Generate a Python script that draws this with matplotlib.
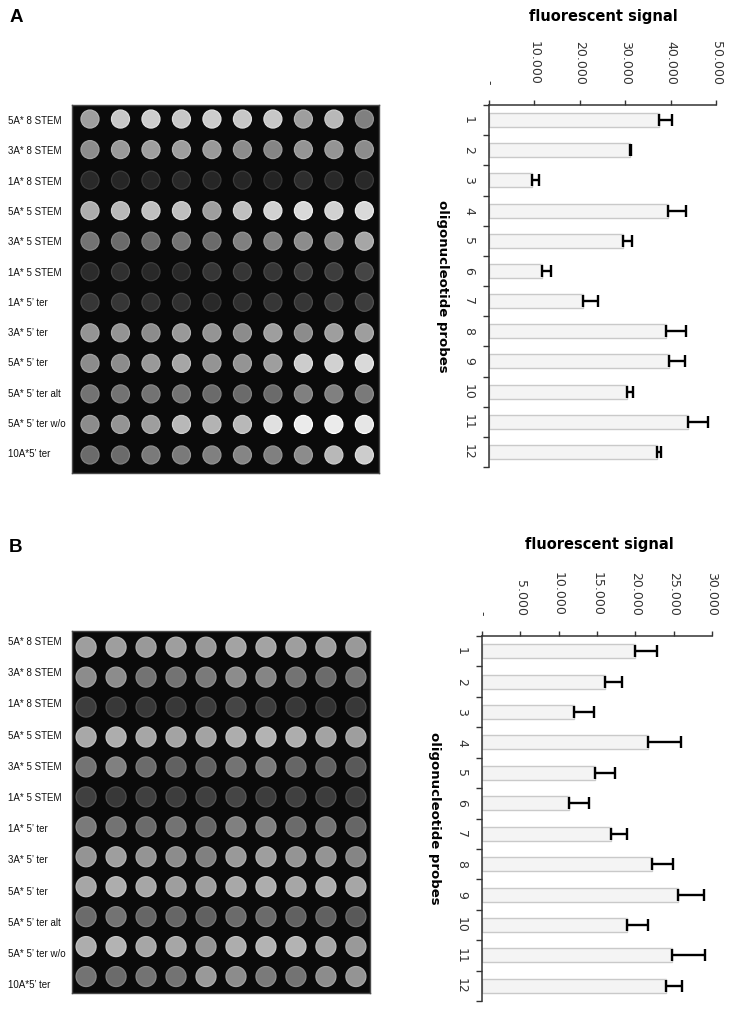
import matplotlib
matplotlib.use("Agg")
import matplotlib.pyplot as plt
import numpy as np

W, H = 734, 1009

# ---------------- data ----------------
probe_labels = ["5A* 8 STEM", "3A* 8 STEM", "1A* 8 STEM", "5A* 5 STEM", "3A* 5 STEM",
                "1A* 5 STEM", "1A* 5\u2019 ter", "3A* 5\u2019 ter", "5A* 5\u2019 ter",
                "5A* 5\u2019 ter alt", "5A* 5\u2019 ter w/o", "10A*5\u2019 ter"]
probe_numbers = [str(i) for i in range(1, 13)]

signal_A = [37400, 31100, 9400, 39500, 29600, 11700, 20600, 38900, 39700, 30500, 43800, 36900]
error_A = [3000, 200, 1700, 3800, 1800, 1900, 3400, 4500, 3500, 1300, 4400, 900]
ticks_A = [0, 10000, 20000, 30000, 40000, 50000]

signal_B = [20000, 16100, 12000, 21600, 14700, 11300, 16800, 22200, 25600, 18900, 24800, 24000]
error_B = [2800, 2200, 2600, 4400, 2700, 2600, 2100, 2700, 3400, 2700, 4300, 2100]
ticks_B = [0, 5000, 10000, 15000, 20000, 25000, 30000]

# spot brightness of the array images (0 = black, 1 = white), rows = probes, 10 replicates
spots_A = [
    [0.62, 0.78, 0.80, 0.78, 0.80, 0.78, 0.78, 0.62, 0.72, 0.50],
    [0.55, 0.60, 0.62, 0.62, 0.60, 0.55, 0.52, 0.58, 0.58, 0.55],
    [0.16, 0.15, 0.15, 0.16, 0.15, 0.15, 0.14, 0.18, 0.16, 0.16],
    [0.68, 0.72, 0.75, 0.75, 0.62, 0.75, 0.82, 0.85, 0.82, 0.85],
    [0.45, 0.42, 0.42, 0.45, 0.42, 0.50, 0.50, 0.55, 0.55, 0.65],
    [0.17, 0.19, 0.16, 0.16, 0.21, 0.21, 0.21, 0.24, 0.24, 0.27],
    [0.21, 0.21, 0.19, 0.19, 0.16, 0.19, 0.21, 0.21, 0.24, 0.24],
    [0.58, 0.58, 0.55, 0.60, 0.58, 0.55, 0.62, 0.55, 0.62, 0.62],
    [0.55, 0.55, 0.60, 0.65, 0.58, 0.58, 0.62, 0.80, 0.82, 0.85],
    [0.45, 0.45, 0.45, 0.45, 0.42, 0.42, 0.42, 0.50, 0.50, 0.48],
    [0.55, 0.58, 0.62, 0.72, 0.70, 0.72, 0.88, 0.92, 0.92, 0.90],
    [0.42, 0.42, 0.48, 0.48, 0.50, 0.52, 0.50, 0.55, 0.72, 0.80],
]
spots_B = [
    [0.62, 0.62, 0.60, 0.62, 0.60, 0.64, 0.64, 0.62, 0.62, 0.60],
    [0.55, 0.55, 0.45, 0.45, 0.48, 0.55, 0.52, 0.45, 0.42, 0.45],
    [0.24, 0.22, 0.22, 0.22, 0.24, 0.27, 0.24, 0.22, 0.20, 0.22],
    [0.66, 0.68, 0.65, 0.64, 0.64, 0.68, 0.70, 0.68, 0.64, 0.62],
    [0.45, 0.50, 0.42, 0.38, 0.38, 0.45, 0.48, 0.40, 0.38, 0.35],
    [0.25, 0.22, 0.25, 0.24, 0.25, 0.27, 0.24, 0.25, 0.24, 0.24],
    [0.48, 0.45, 0.42, 0.45, 0.40, 0.50, 0.50, 0.42, 0.45, 0.40],
    [0.58, 0.62, 0.58, 0.55, 0.50, 0.60, 0.62, 0.58, 0.58, 0.52],
    [0.65, 0.68, 0.65, 0.62, 0.62, 0.66, 0.68, 0.65, 0.68, 0.65],
    [0.42, 0.45, 0.40, 0.40, 0.38, 0.42, 0.42, 0.38, 0.38, 0.35],
    [0.68, 0.70, 0.65, 0.65, 0.58, 0.68, 0.70, 0.70, 0.65, 0.60],
    [0.45, 0.42, 0.45, 0.45, 0.60, 0.55, 0.48, 0.45, 0.55, 0.58],
]

# ---------------- drawing ----------------
fig = plt.figure(figsize=(W / 100, H / 100), dpi=100)
fig.patch.set_facecolor("white")


def ax_px(x0, y0, x1, y1):
    return fig.add_axes([x0 / W, 1 - y1 / H, (x1 - x0) / W, (y1 - y0) / H])


def fmt(v):
    return "-" if v == 0 else f"{v:,}".replace(",", ".")


def draw_array(box, xlim, ylim, spots, diam_px, label_y0, label_step):
    ax = ax_px(*box)
    ax.set_facecolor("#0a0a0a")
    arr = np.array(spots)
    rows, cols = np.meshgrid(np.arange(arr.shape[0]), np.arange(arr.shape[1]), indexing="ij")
    vals = arr.ravel()
    face = np.stack([vals, vals, vals], axis=1)
    ev = np.clip(vals + 0.08, 0, 1)
    edge = np.stack([ev, ev, ev], axis=1)
    s = (diam_px * 0.72) ** 2
    ax.scatter(cols.ravel(), rows.ravel(), s=s, c=face, edgecolors=edge, linewidths=0.9)
    ax.set_xlim(*xlim)
    ax.set_ylim(*ylim)
    ax.set_xticks([])
    ax.set_yticks([])
    for sp in ax.spines.values():
        sp.set_color("#4a4a4a")
        sp.set_linewidth(1.0)
    for i, lab in enumerate(probe_labels):
        y = label_y0 + i * label_step
        fig.text(8 / W, 1 - y / H, lab, fontsize=7, family="Liberation Sans",
                 ha="left", va="center", color="#111111")
    return ax


def draw_bars(box, values, errors, ticks, title_xy, ylabel_off_px):
    ax = ax_px(*box)
    pos = np.arange(1, len(values) + 1)
    ax.barh(pos, values, height=0.46, color="#f4f4f4", edgecolor="#c9c9c9", linewidth=1.0,
            zorder=2)
    ax.errorbar(values, pos, xerr=[np.zeros(len(errors)), errors], fmt="none",
                ecolor="black", elinewidth=1.7, capsize=4.2, capthick=1.7, zorder=3)
    ax.set_xlim(ticks[0], ticks[-1])
    ax.set_ylim(len(values) + 0.5, 0.5)
    ax.xaxis.tick_top()
    ax.set_xticks(ticks)
    ax.set_xticklabels([fmt(t) for t in ticks], rotation=-90, fontsize=9,
                       color="#333333", va="bottom", ha="center")
    ax.tick_params(axis="x", direction="out", length=3.5, width=1.0, color="#333333", pad=11)
    ax.set_yticks(pos)
    ax.set_yticklabels(probe_numbers, rotation=-90, fontsize=9, color="#333333",
                       va="center", ha="right")
    ax.set_yticks(np.arange(0.5, len(values) + 1.0, 1.0), minor=True)
    ax.tick_params(axis="y", which="major", length=0, pad=10)
    ax.tick_params(axis="y", which="minor", direction="out", length=4.5, width=1.0,
                   color="#333333")
    for k in ("right", "bottom"):
        ax.spines[k].set_visible(False)
    for k in ("left", "top"):
        ax.spines[k].set_color("#333333")
        ax.spines[k].set_linewidth(1.1)
    ax.set_ylabel("oligonucleotide probes", rotation=-90, fontsize=9.5, fontweight="bold",
                  va="center", ha="center")
    axw = box[2] - box[0]
    ax.yaxis.set_label_coords(-ylabel_off_px / axw, 0.5)
    fig.text(title_xy[0] / W, 1 - title_xy[1] / H, "fluorescent signal", fontsize=10.5,
             fontweight="bold", ha="center", va="center")
    return ax


# Panel A
fig.text(16 / W, 1 - 17 / H, "A", fontsize=13.5, fontweight="bold", family="Liberation Sans",
         ha="center", va="center")
draw_array((72, 105, 379, 473), (-0.59, 9.48), (11.59, -0.46), spots_A, 18, 121, 30.3)
draw_bars((489, 105, 716, 467), signal_A, error_A, ticks_A, (603, 16), 47)

# Panel B
fig.text(16 / W, 1 - 547 / H, "B", fontsize=13.5, fontweight="bold", family="Liberation Sans",
         ha="center", va="center")
draw_array((72, 631, 370, 993), (-0.47, 9.47), (11.55, -0.54), spots_B, 20, 642, 31.2)
draw_bars((482, 636, 712, 1001), signal_B, error_B, ticks_B, (599, 544), 47)

fig.savefig("out.png", dpi=100, facecolor="white")
